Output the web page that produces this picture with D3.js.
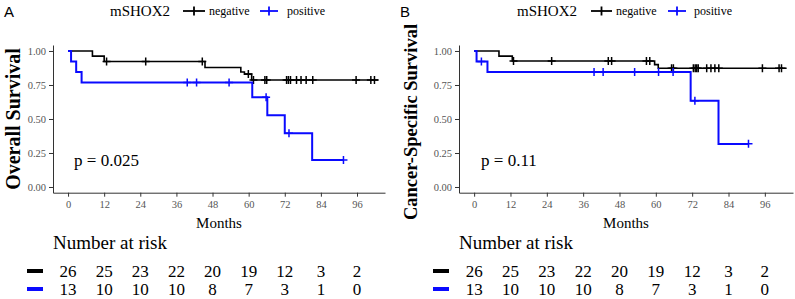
<!DOCTYPE html>
<html>
<head>
<meta charset="utf-8">
<title>mSHOX2 survival</title>
<style>
  body, html { margin: 0; background: #fff; }
  svg text { font-family: "Liberation Serif", "Times New Roman", serif; }
  .panel-label { font-family: "Liberation Sans", Arial, sans-serif !important; }
  .tick text { fill: #555; }
  .domain { stroke: #333; }
  .tick line { stroke: #333; }
</style>
<script src="https://d3js.org/d3.v7.min.js"></script>
</head>
<body>
<svg width="795" height="299"></svg>
<script>
// ---- data ----
const monthTicks = [0, 12, 24, 36, 48, 60, 72, 84, 96];
const survTicks = [0, 0.25, 0.5, 0.75, 1];
const groups = ["negative", "positive"];
const riskNeg = [26, 25, 23, 22, 20, 19, 12, 3, 2];
const riskPos = [13, 10, 10, 10, 8, 7, 3, 1, 0];

// [month, survival] steps, last entry = end of curve
const osNeg = [[0, 1], [8.1, 0.962], [12, 0.923], [45.5, 0.879], [57.4, 0.846], [58.6, 0.83], [61, 0.787], [103.1, 0.787]];
const osNegCens = [12.8, 25.8, 44.6, 59.9, 61.6, 65.4, 66, 72.6, 73.2, 73.9, 75.9, 77.4, 79.1, 81.3, 95.7, 100.6, 101.8];
const osPos = [[0, 1], [1, 0.923], [2.7, 0.846], [4.5, 0.769], [61.2, 0.659], [66.2, 0.527], [72, 0.395], [81.1, 0.198], [91.5, 0.198]];
const osPosCens = [39.6, 42.7, 53.5, 65.8, 73.4, 91.5];

const cssNeg = [[0, 1], [8.2, 0.962], [12.6, 0.926], [59.6, 0.9], [60.8, 0.873], [103.2, 0.873]];
const cssNegCens = [13, 25.6, 44.3, 45.4, 56.9, 58, 65.2, 65.8, 72.4, 73, 73.5, 74, 76.8, 78.2, 79.5, 80.8, 95.2, 100.7, 101.5];
const cssPos = [[0, 1], [0.8, 0.923], [4.4, 0.846], [71.5, 0.635], [80.7, 0.317], [90.6, 0.317]];
const cssPosCens = [2.4, 39.6, 42.6, 53, 60.9, 65.7, 72.9, 90.6];

const colors = { negative: "#000000", positive: "#0a0aff" };

const svg = d3.select("svg");

function stepValue(steps, t) {
  let v = steps[0][1];
  steps.forEach(s => { if (s[0] <= t) v = s[1]; });
  return v;
}

function drawPanel(p) {
  const g = svg.append("g");
  const x = d3.scaleLinear().domain([-5, 105.3]).range([p.left, p.right]);
  const y = d3.scaleLinear().domain([-0.042, 1.044]).range([192.7, 45]);

  g.append("text").attr("class", "panel-label").attr("x", p.labelX).attr("y", 17)
    .attr("font-size", 15).text(p.label);

  // legend
  const lg = g.append("g");
  lg.append("text").attr("x", p.legX).attr("y", 16).attr("font-size", 15).text("mSHOX2");
  p.legItems.forEach((it, i) => {
    const c = colors[groups[i]];
    lg.append("line").attr("x1", it.x0).attr("x2", it.x1).attr("y1", 11).attr("y2", 11)
      .attr("stroke", c).attr("stroke-width", 1.8);
    const m = (it.x0 + it.x1) / 2;
    lg.append("line").attr("x1", m).attr("x2", m).attr("y1", 6.5).attr("y2", 15.5)
      .attr("stroke", c).attr("stroke-width", 1.8);
    lg.append("text").attr("x", it.tx).attr("y", 15).attr("font-size", 12).text(groups[i]);
  });

  // axes
  g.append("g").attr("transform", `translate(${p.left},0)`)
    .call(d3.axisLeft(y).tickValues(survTicks).tickFormat(d3.format(".2f")).tickSize(4).tickSizeOuter(0).tickPadding(3))
    .call(a => a.selectAll("text").style("font-family", "'Liberation Serif', serif").attr("font-size", 10.5));
  g.append("g").attr("transform", "translate(0,192.7)")
    .call(d3.axisBottom(x).tickValues(monthTicks).tickSize(4).tickSizeOuter(0).tickPadding(4))
    .call(a => a.selectAll("text").style("font-family", "'Liberation Serif', serif").attr("font-size", 10.5));

  g.append("text").attr("x", (p.left + p.right) / 2).attr("y", 228)
    .attr("text-anchor", "middle").attr("font-size", 15).text("Months");

  g.append("text").attr("transform", `translate(${p.titleX},${p.titleY}) rotate(-90)`)
    .attr("text-anchor", "middle").attr("font-weight", "bold")
    .attr("font-size", p.titleSize).text(p.title);

  // curves
  const line = d3.line().x(d => x(d[0])).y(d => y(d[1])).curve(d3.curveStepAfter);
  [[p.neg, p.negCens, "negative", 1.6], [p.pos, p.posCens, "positive", 2]].forEach(([steps, cens, grp, w]) => {
    g.append("path").datum(steps).attr("d", line)
      .attr("fill", "none").attr("stroke", colors[grp]).attr("stroke-width", w);
    g.selectAll(null).data(cens).enter().append("path")
      .attr("d", t => {
        const cx = x(t), cy = y(stepValue(steps, t));
        return `M${cx - 4},${cy}H${cx + 4}M${cx},${cy - 4}V${cy + 4}`;
      })
      .attr("stroke", colors[grp]).attr("stroke-width", 1.5).attr("fill", "none");
  });

  g.append("text").attr("x", x(p.pMonth)).attr("y", 166)
    .attr("font-size", 17).text(p.pText);

  // risk table
  g.append("text").attr("x", p.left).attr("y", 249)
    .attr("font-size", 19).text("Number at risk");
  [[riskNeg, 271, "negative"], [riskPos, 289, "positive"]].forEach(([vals, yy, grp]) => {
    g.append("rect").attr("x", p.dashX).attr("y", yy - 2).attr("width", 16).attr("height", 4)
      .attr("fill", colors[grp]);
    g.selectAll(null).data(vals).enter().append("text")
      .attr("x", (d, i) => x(monthTicks[i])).attr("y", yy + 5.5)
      .attr("text-anchor", "middle").attr("font-size", 17)
      .text(d => d);
  });
}

drawPanel({
  label: "A", labelX: 4, left: 53, right: 385, legX: 110,
  legItems: [{ x0: 183, x1: 205, tx: 209 }, { x0: 260, x1: 278, tx: 287 }],
  title: "Overall Survival", titleX: 20, titleY: 119, titleSize: 20,
  neg: osNeg, negCens: osNegCens, pos: osPos, posCens: osPosCens,
  pText: "p = 0.025", pMonth: 2, dashX: 27
});
drawPanel({
  label: "B", labelX: 400, left: 459, right: 793, legX: 517,
  legItems: [{ x0: 591, x1: 612, tx: 616 }, { x0: 668, x1: 686, tx: 694 }],
  title: "Cancer-Specific Survival", titleX: 417, titleY: 122, titleSize: 18.5,
  neg: cssNeg, negCens: cssNegCens, pos: cssPos, posCens: cssPosCens,
  pText: "p = 0.11", pMonth: 2.3, dashX: 433
});
</script>
</body>
</html>
